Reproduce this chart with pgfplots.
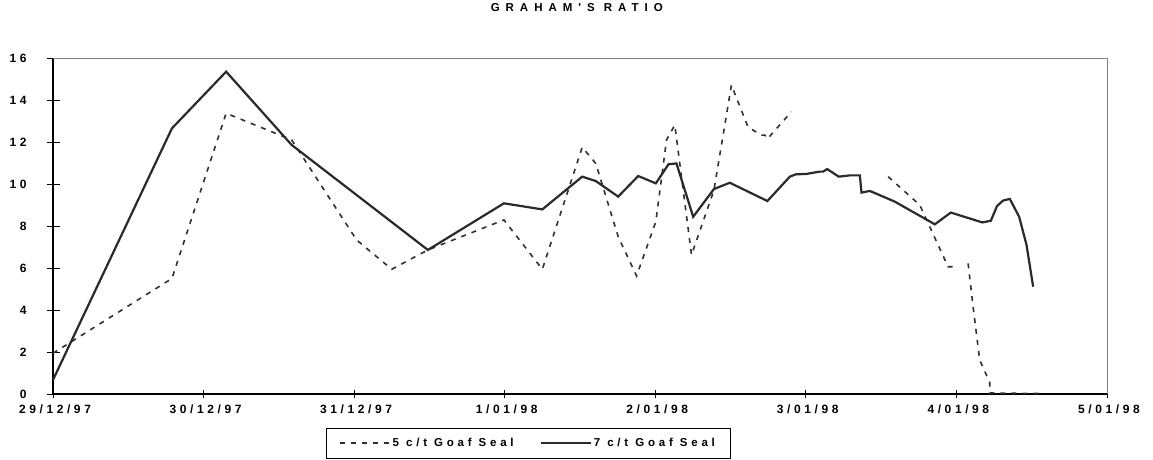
\documentclass[border=0pt]{standalone}
\usepackage{pgfplots}
\pgfplotsset{compat=1.18}
\usepackage{fontspec}
\setmainfont{Liberation Sans}
\newfontfamily\tickfont[LetterSpace=30]{Liberation Sans Bold}
\newfontfamily\legfont[LetterSpace=33]{Liberation Sans Bold}
\newfontfamily\titlefont[LetterSpace=52]{Liberation Sans Bold}
\definecolor{solidc}{HTML}{2A2A2A}
\definecolor{dashc}{HTML}{303030}
\begin{document}
\begin{tikzpicture}
\path[use as bounding box] (-53pt,-66pt) rectangle (1100pt,394pt);
\begin{axis}[
  at={(0pt,0pt)}, anchor=south west,
  scale only axis, width=1054pt, height=336pt,
  xmin=0, xmax=7, ymin=0, ymax=16,
  axis x line*=bottom, axis y line*=left,
  axis line style={-, black, line width=1.1pt},
  xtick={0,1,2,3,4,5,6,7},
  xticklabels={29/12/97,30/12/97,31/12/97,1/01/98,2/01/98,3/01/98,4/01/98,5/01/98},
  ytick={0,2,4,6,8,10,12,14,16},
  tick align=center,
  xtick style={black, line width=0.8pt, /pgfplots/major tick length=8pt},
  ytick style={black, line width=0.8pt, /pgfplots/major tick length=13pt},
  /pgf/number format/assume math mode=true,
  ticklabel style={font=\tickfont\fontsize{12}{14}\selectfont, inner sep=0pt},
  xticklabel style={anchor=center, yshift=-13.5pt, xshift=2pt},
  yticklabel style={anchor=east, xshift=-24pt},
  title={GRAHAM'S RATIO},
  title style={at={(0.497,1)}, anchor=center, yshift=44pt, font=\titlefont\fontsize{11.5}{13}\selectfont},
  unbounded coords=jump,
  clip=false,
  legend columns=2,
  legend style={at={(0.4507,0)}, anchor=north, yshift=-34pt, draw=black, line width=0.7pt,
    font=\legfont\fontsize{11.5}{13}\selectfont, inner xsep=13pt, inner ysep=8pt,
    /tikz/every even column/.append style={column sep=24pt}},
  legend image code/.code={\draw[#1] (0pt,0pt) -- (50pt,0pt);},
]
\draw[gray, line width=0.8pt] (rel axis cs:0,1) -- (rel axis cs:1,1) -- (rel axis cs:1,0);
\addplot[dashc, line width=1.6pt, dash pattern=on 5pt off 6pt] table {
x y
0 1.94
0.79 5.50
1.15 13.37
1.585 12.10
2.017 7.33
2.25 5.94
2.49 6.86
2.995 8.29
3.25 5.94
3.515 11.75
3.605 10.98
3.754 7.49
3.876 5.62
4.004 8.21
4.075 12.10
4.13 12.81
4.241 6.62
4.39 9.71
4.506 14.71
4.617 12.70
4.705 12.33
4.728 12.33
4.745 12.15
4.905 13.44
4.95 nan
5.547 10.35
5.757 9.00
5.945 6.06
5.978 6.06
6.02 nan
6.078 6.22
6.111 4.16
6.155 1.62
6.222 0.54
6.222 0.05
6.565 0.02
};
\addlegendentry{5 c/t Goaf Seal}
\addplot[solidc, line width=2.2pt] table {
x y
0 0.67
0.79 12.65
1.15 15.35
1.585 11.86
2.49 6.86
2.995 9.08
3.25 8.79
3.515 10.35
3.605 10.14
3.754 9.40
3.887 10.38
4.004 10.03
4.088 10.94
4.141 10.98
4.252 8.44
4.39 9.76
4.495 10.06
4.745 9.19
4.894 10.35
4.934 10.46
5.005 10.48
5.093 10.59
5.115 10.59
5.142 10.71
5.219 10.35
5.292 10.41
5.359 10.41
5.37 9.59
5.425 9.67
5.591 9.16
5.857 8.08
5.963 8.64
6.173 8.17
6.229 8.25
6.27 8.95
6.31 9.21
6.355 9.29
6.417 8.44
6.466 7.10
6.51 5.11
};
\addlegendentry{7 c/t Goaf Seal}
\end{axis}
\end{tikzpicture}
\end{document}
